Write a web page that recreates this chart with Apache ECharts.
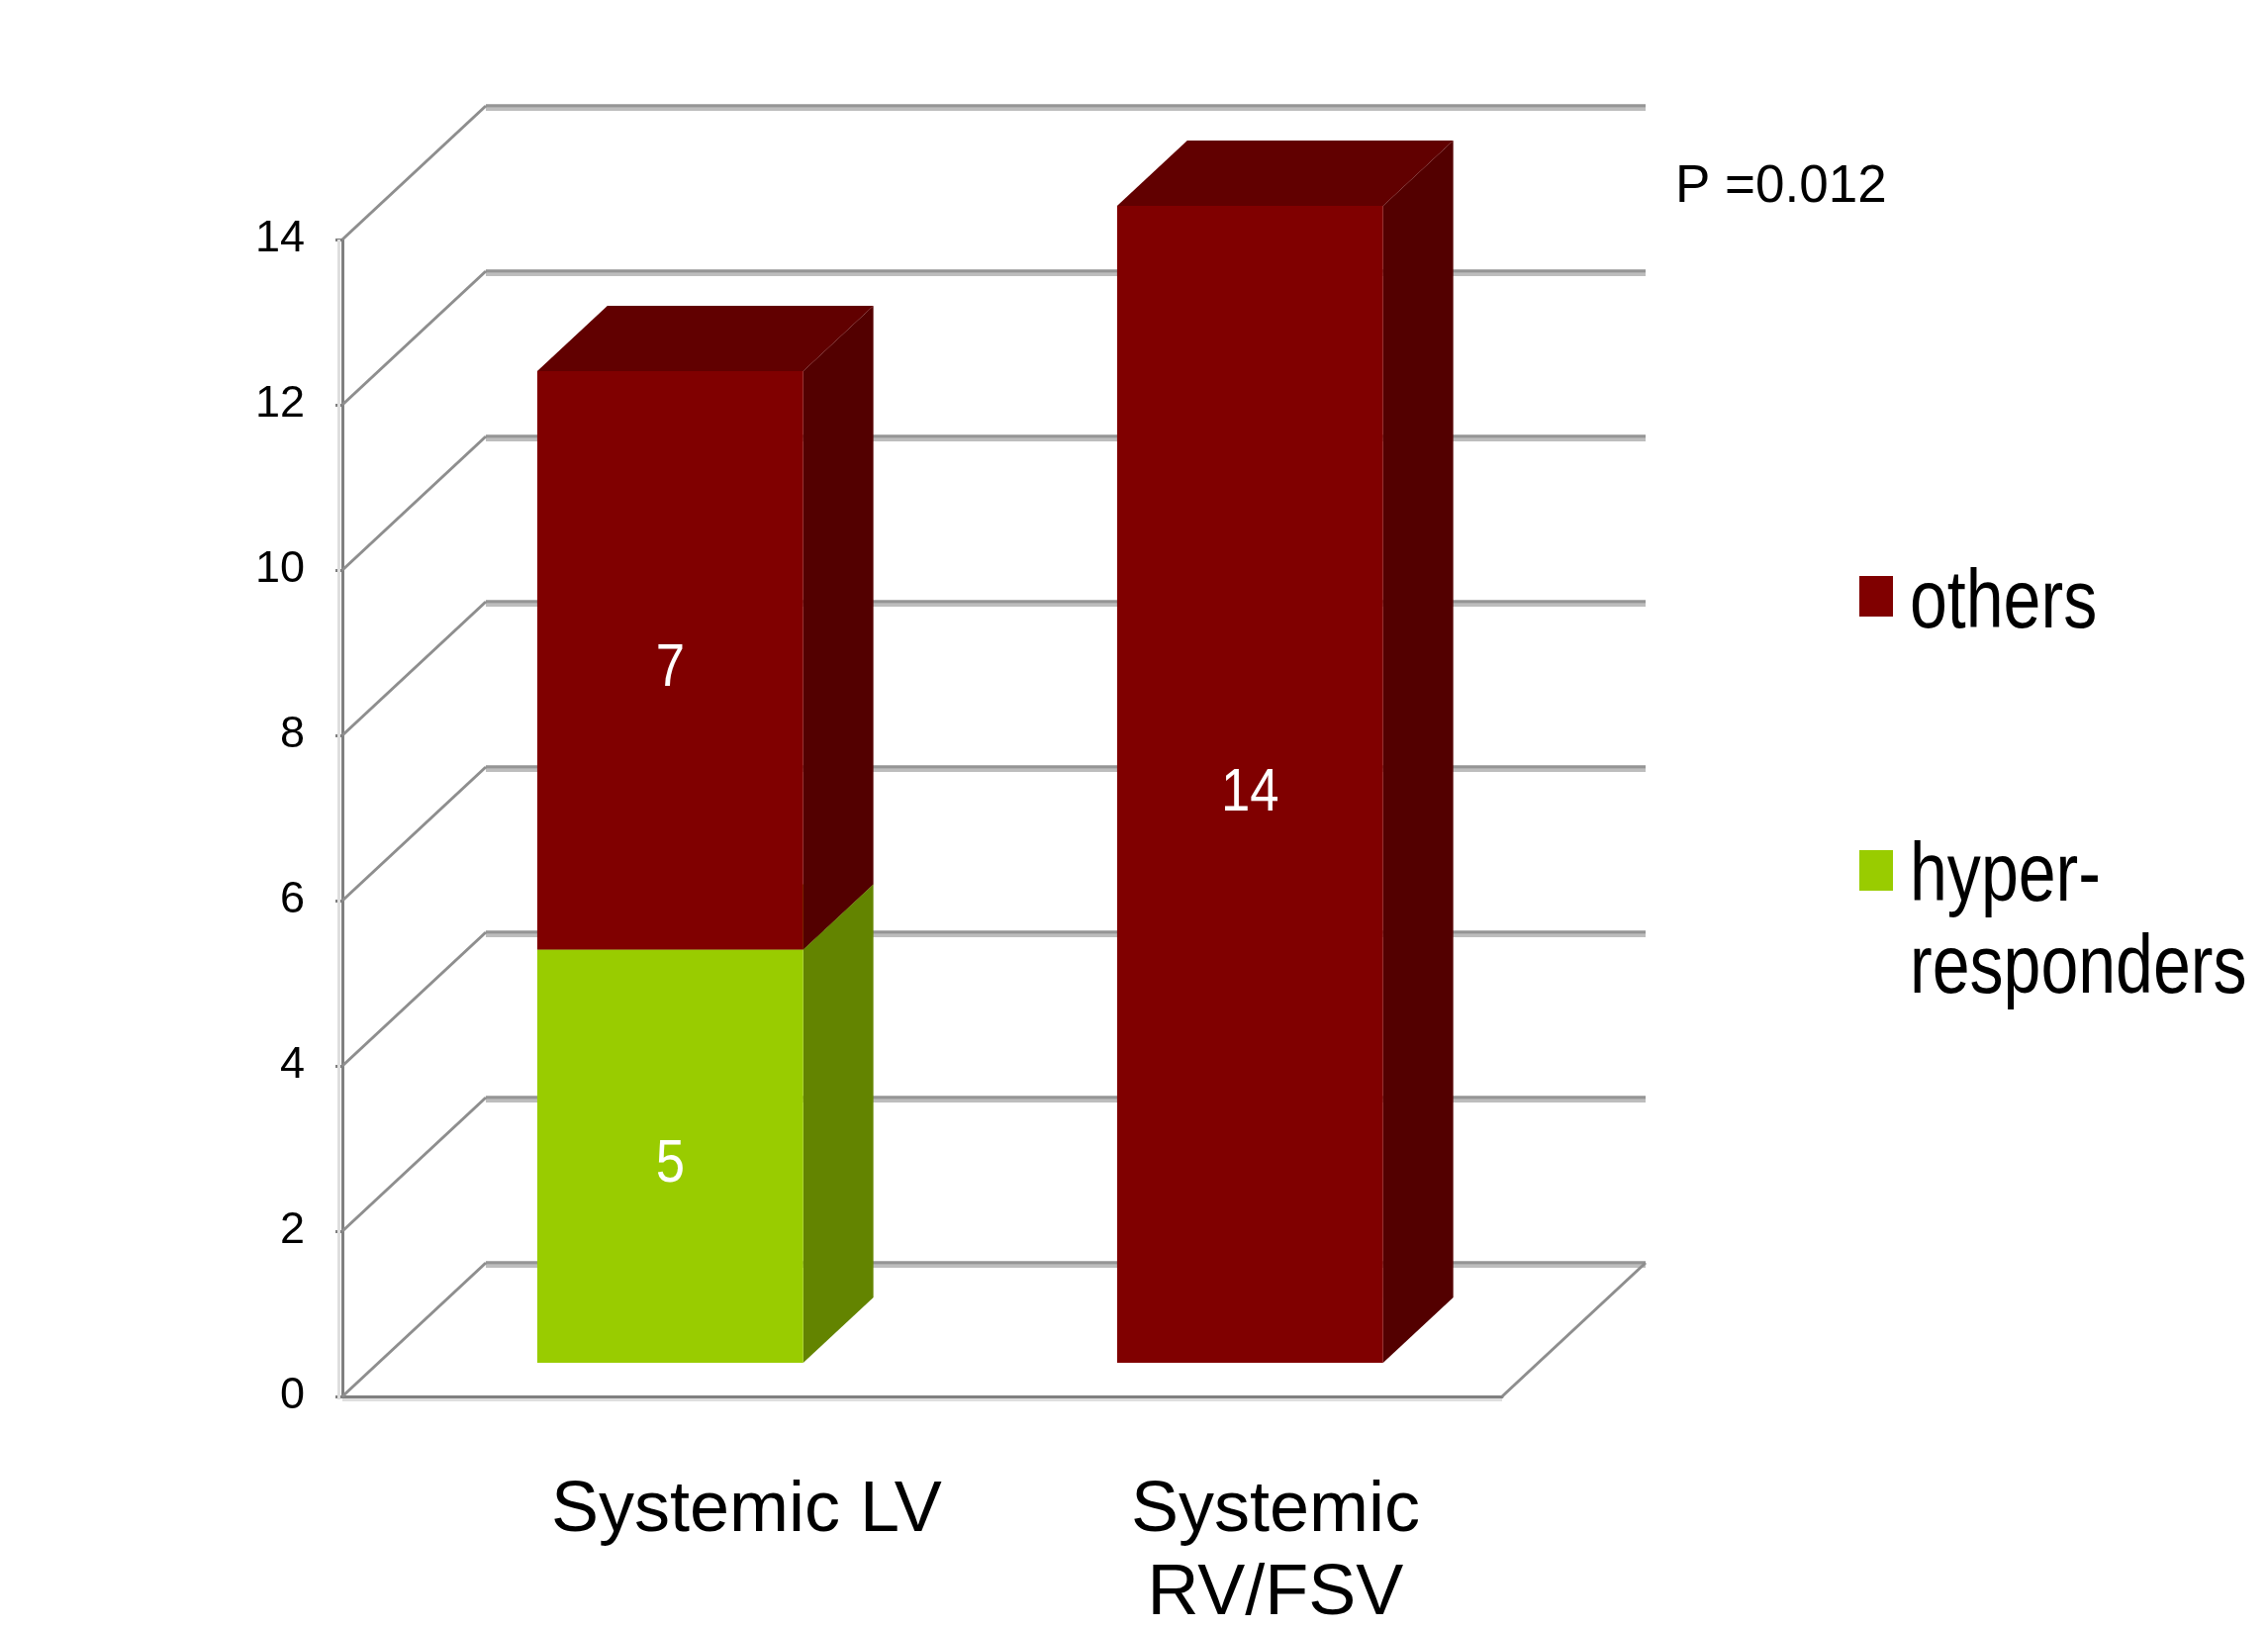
<!DOCTYPE html>
<html>
<head>
<meta charset="utf-8">
<script src="https://cdn.jsdelivr.net/npm/echarts@6/dist/echarts.min.js"></script>
<style>
  html, body { margin: 0; padding: 0; background: #ffffff; }
  #chart { width: 2292px; height: 1646px; }
</style>
</head>
<body>
<div id="chart"></div>
<script>
// ---- data ----
const categories = ['Systemic LV', 'Systemic RV/FSV'];
const hyperResponders = [5, 0];
const others = [7, 14];
const seriesNames = ['hyper-responders', 'others'];
const yTicks = [0, 2, 4, 6, 8, 10, 12, 14];
const pValueText = 'P =0.012';

// ---- look ----
const FONT = "'Liberation Sans', Arial, Helvetica, sans-serif";
const COLORS = {
  'others':           { front: '#800000', top: '#610000', side: '#530000' },
  'hyper-responders': { front: '#99cc00', top: '#7aa300', side: '#638400' }
};

// oblique 3-D projection: depth 0 = front plane (axes), depth 1 = back wall
const DEPTH_DX = 145;
const DEPTH_DY = 135;
const BAR_Z0 = 0.252;      // front face depth of the columns
const BAR_Z1 = 0.741;      // back face depth of the columns
const BAR_OFFSET = 0.2737; // column start inside its category band
const BAR_WIDTH = 0.4587;  // column width as a share of the band

const measureCtx = document.createElement('canvas').getContext('2d');
function textWidth(s, font) { measureCtx.font = font; return measureCtx.measureText(s).width; }
function wrapWords(s, font, maxW) {
  const words = s.split(' ');
  const lines = [];
  let cur = '';
  words.forEach(w => {
    const t = cur ? cur + ' ' + w : w;
    if (cur && textWidth(t, font) > maxW) { lines.push(cur); cur = w; }
    else cur = t;
  });
  if (cur) lines.push(cur);
  return lines;
}

// back wall, side wall diagonals and floor
function renderWall(params, api) {
  const cs = params.coordSys;
  const v = api.value(1);
  const y = api.coord([0, v])[1];
  const x0 = cs.x, x1 = cs.x + cs.width;
  const children = [];
  children.push({ type: 'line', shape: { x1: x0 + DEPTH_DX, y1: y - DEPTH_DY + 3.5, x2: x1 + DEPTH_DX, y2: y - DEPTH_DY + 3.5 },
    style: { stroke: '#bdbdbd', lineWidth: 3 } });
  children.push({ type: 'line', shape: { x1: x0 + DEPTH_DX, y1: y - DEPTH_DY, x2: x1 + DEPTH_DX, y2: y - DEPTH_DY },
    style: { stroke: '#959595', lineWidth: 3.5 } });
  children.push({ type: 'line', shape: { x1: x0, y1: y, x2: x0 + DEPTH_DX, y2: y - DEPTH_DY },
    style: { stroke: '#8e8e8e', lineWidth: 3 } });
  if (v === yTicks[0]) {
    const yTop = api.coord([0, yTicks[yTicks.length - 1]])[1];
    children.push({ type: 'line', shape: { x1: x1, y1: y, x2: x1 + DEPTH_DX, y2: y - DEPTH_DY },
      style: { stroke: '#8e8e8e', lineWidth: 3 } });
    children.push({ type: 'line', shape: { x1: x0 - 3.5, y1: yTop, x2: x0 - 3.5, y2: y + 3 },
      style: { stroke: '#dedede', lineWidth: 3 } });
    children.push({ type: 'line', shape: { x1: x0, y1: y + 3.5, x2: x1, y2: y + 3.5 },
      style: { stroke: '#dedede', lineWidth: 3 } });
  }
  return { type: 'group', children };
}

// one stacked 3-D column segment with its value label
function makeBarRenderer(colors) {
  return function (params, api) {
    const v = api.value(1);
    if (!v) return null;
    const i = api.value(0), base = api.value(2);
    const cs = params.coordSys;
    const band = cs.width / categories.length;
    const xl = cs.x + i * band + BAR_OFFSET * band + BAR_Z0 * DEPTH_DX;
    const xr = xl + BAR_WIDTH * band;
    const yb = api.coord([i, base])[1] - BAR_Z0 * DEPTH_DY;
    const yt = api.coord([i, base + v])[1] - BAR_Z0 * DEPTH_DY;
    const ddx = (BAR_Z1 - BAR_Z0) * DEPTH_DX, ddy = (BAR_Z1 - BAR_Z0) * DEPTH_DY;
    return {
      type: 'group',
      children: [
        { type: 'polygon', shape: { points: [[xr, yb], [xr, yt], [xr + ddx, yt - ddy], [xr + ddx, yb - ddy]] },
          style: { fill: colors.side } },
        { type: 'polygon', shape: { points: [[xl, yt], [xr, yt], [xr + ddx, yt - ddy], [xl + ddx, yt - ddy]] },
          style: { fill: colors.top } },
        { type: 'rect', shape: { x: xl, y: yt, width: xr - xl, height: yb - yt },
          style: { fill: colors.front } },
        { type: 'text', x: (xl + xr) / 2, y: (yt + yb) / 2 + 9, scaleX: 0.85,
          style: { text: String(v), fill: '#ffffff', font: '62px ' + FONT, align: 'center', verticalAlign: 'middle' } }
      ]
    };
  };
}

// category names under the floor
const CAT_FONT = '72px ' + FONT;
function renderCategory(params, api) {
  const i = api.value(0);
  const cs = params.coordSys;
  const band = cs.width / categories.length;
  const lines = wrapWords(categories[i], CAT_FONT, 420);
  const w = Math.max.apply(null, lines.map(l => textWidth(l, CAT_FONT)));
  const cx = cs.x + i * band + 0.36 * band + w / 2;
  const y0 = api.coord([i, 0])[1];
  return {
    type: 'text', x: cx, y: y0 + 74,
    style: { text: lines.join('\n'), font: CAT_FONT, fill: '#000000', align: 'center', verticalAlign: 'top', lineHeight: 84 }
  };
}

const chart = echarts.init(document.getElementById('chart'));
chart.setOption({
  animation: false,
  backgroundColor: '#ffffff',
  grid: { left: 346, right: 774, top: 242, bottom: 235, containLabel: false, outerBoundsMode: 'none' },
  xAxis: {
    type: 'category', data: categories,
    axisLine: { show: true, lineStyle: { color: '#808080', width: 3 } },
    axisTick: { show: false }, axisLabel: { show: false }, splitLine: { show: false }
  },
  yAxis: {
    type: 'value', min: yTicks[0], max: yTicks[yTicks.length - 1], interval: yTicks[1] - yTicks[0],
    axisLine: { show: true, lineStyle: { color: '#808080', width: 3 } },
    axisTick: { show: true, length: 7, lineStyle: { color: '#808080', width: 3 } },
    axisLabel: { fontSize: 45, fontFamily: FONT, color: '#000000', margin: 38 },
    splitLine: { show: false }
  },
  series: [
    { type: 'custom', name: 'walls', clip: false, silent: true, z: 1,
      data: yTicks.map(v => [0, v]), encode: { x: 0, y: 1 }, renderItem: renderWall },
    { type: 'custom', name: seriesNames[0], clip: false, z: 3,
      data: hyperResponders.map((v, i) => [i, v, 0]), encode: { x: 0, y: 1 },
      renderItem: makeBarRenderer(COLORS[seriesNames[0]]) },
    { type: 'custom', name: seriesNames[1], clip: false, z: 4,
      data: others.map((v, i) => [i, v, hyperResponders[i]]), encode: { x: 0, y: 1 },
      renderItem: makeBarRenderer(COLORS[seriesNames[1]]) },
    { type: 'custom', name: 'categories', clip: false, silent: true, z: 5,
      data: categories.map((c, i) => [i, 0]), encode: { x: 0, y: 1 }, renderItem: renderCategory }
  ],
  graphic: [
    { type: 'text', x: 1693, y: 189,
      style: { text: pValueText, font: '53px ' + FONT, fill: '#000000', align: 'left', verticalAlign: 'middle' } },
    { type: 'rect', shape: { x: 1879, y: 582, width: 34, height: 41 }, style: { fill: COLORS[seriesNames[1]].front } },
    { type: 'text', x: 1930, y: 611, scaleX: 0.82,
      style: { text: seriesNames[1], font: '83px ' + FONT, fill: '#000000', align: 'left', verticalAlign: 'middle' } },
    { type: 'rect', shape: { x: 1879, y: 859, width: 34, height: 41 }, style: { fill: COLORS[seriesNames[0]].front } },
    { type: 'text', x: 1930, y: 840.5, scaleX: 0.82,
      style: { text: seriesNames[0].replace('-', '-\n'), font: '83px ' + FONT, fill: '#000000',
               align: 'left', verticalAlign: 'top', lineHeight: 93 } }
  ]
});
</script>
</body>
</html>
